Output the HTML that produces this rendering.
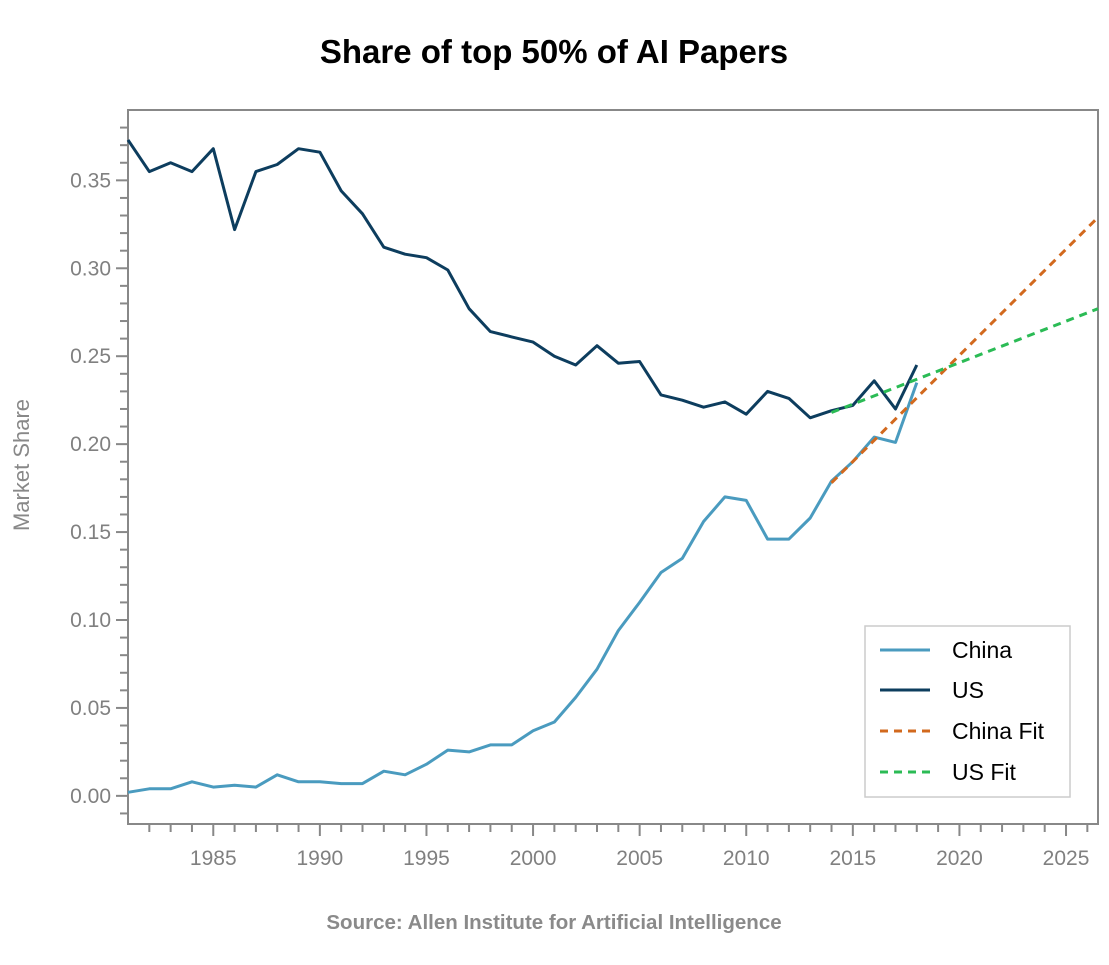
<!DOCTYPE html>
<html><head><meta charset="utf-8"><style>
html,body{margin:0;padding:0;background:#fff;}
svg text{font-family:"Liberation Sans",sans-serif;}
</style></head><body>
<svg id="chart" width="1109" height="960" xmlns="http://www.w3.org/2000/svg">
<text x="554" y="63" text-anchor="middle" font-size="33" font-weight="bold" fill="#000">Share of top 50% of AI Papers</text>
<text transform="translate(29,465) rotate(-90)" text-anchor="middle" font-size="22" fill="#888">Market Share</text>
<text x="554" y="929" text-anchor="middle" font-size="20.5" font-weight="bold" fill="#8a8a8a">Source: Allen Institute for Artificial Intelligence</text>
<g id="axes"></g>
<g id="series"></g>
<g>
<rect x="865" y="626" width="205" height="171" fill="#fff" stroke="#ccc" stroke-width="1.5"/>
<g><line x1="880" y1="650" x2="930" y2="650" stroke="#4a9bbf" stroke-width="3"/><text x="952" y="658" font-size="23" fill="#000">China</text></g>
<g><line x1="880" y1="690" x2="930" y2="690" stroke="#0d3d5e" stroke-width="3"/><text x="952" y="698" font-size="23" fill="#000">US</text></g>
<g><line x1="880" y1="731" x2="930" y2="731" stroke="#d2691e" stroke-width="3" stroke-dasharray="8,6"/><text x="952" y="739" font-size="23" fill="#000">China Fit</text></g>
<g><line x1="880" y1="772" x2="930" y2="772" stroke="#2bbb55" stroke-width="3" stroke-dasharray="8,6"/><text x="952" y="780" font-size="23" fill="#000">US Fit</text></g>
</g>
</svg>
<script>
const years = [1981,1982,1983,1984,1985,1986,1987,1988,1989,1990,1991,1992,1993,1994,1995,1996,1997,1998,1999,2000,2001,2002,2003,2004,2005,2006,2007,2008,2009,2010,2011,2012,2013,2014,2015,2016,2017,2018];
const usValues = [0.373,0.355,0.360,0.355,0.368,0.322,0.355,0.359,0.368,0.366,0.344,0.331,0.312,0.308,0.306,0.299,0.277,0.264,0.261,0.258,0.250,0.245,0.256,0.246,0.247,0.228,0.225,0.221,0.224,0.217,0.230,0.226,0.215,0.219,0.222,0.236,0.220,0.245];
const chinaValues = [0.002,0.004,0.004,0.008,0.005,0.006,0.005,0.012,0.008,0.008,0.007,0.007,0.014,0.012,0.018,0.026,0.025,0.029,0.029,0.037,0.042,0.056,0.072,0.094,0.110,0.127,0.135,0.156,0.170,0.168,0.146,0.146,0.158,0.179,0.190,0.204,0.201,0.235];
const fitYears = [2014,2026.5];
const chinaFitValues = [0.178,0.329];
const usFitValues = [0.218,0.277];
const xTickLabels = [1985,1990,1995,2000,2005,2010,2015,2020,2025];
const yTickLabels = [0,0.05,0.10,0.15,0.20,0.25,0.30,0.35];

const L=128,R=1098,T=110,B=824;
const x0=1981,x1=2026.5,y0=-0.016,y1=0.390;
const sx=v=>L+(v-x0)/(x1-x0)*(R-L);
const sy=v=>B-(v-y0)/(y1-y0)*(B-T);
const NS='http://www.w3.org/2000/svg';
function mk(tag,attrs,parent){const e=document.createElementNS(NS,tag);for(const k in attrs)e.setAttribute(k,attrs[k]);parent.appendChild(e);return e;}
const axes=document.getElementById('axes');
const frame=mk('rect',{x:L,y:T,width:R-L,height:B-T,fill:'none',stroke:'#888','stroke-width':2},axes);


for(let yr=1982;yr<=2026;yr++){
  const major=yr%5===0;
  const t=mk('line',{x1:sx(yr),x2:sx(yr),y1:B,y2:B+(major?12:8),stroke:'#888','stroke-width':2},axes);
  
  
}
xTickLabels.forEach(v=>{
  const t=mk('text',{x:sx(v),y:B+41,'text-anchor':'middle','font-size':21,fill:'#808080'},axes);
  t.textContent=v;
  
  
});
for(let i=-1;i<=38;i++){
  const v=i/100;
  const major=i%5===0;
  const t=mk('line',{x1:L-(major?12:8),x2:L,y1:sy(v),y2:sy(v),stroke:'#888','stroke-width':2},axes);
  
  
}
yTickLabels.forEach(v=>{
  const t=mk('text',{x:L-17,y:sy(v)+7,'text-anchor':'end','font-size':21,fill:'#808080'},axes);
  t.textContent=v.toFixed(2);
  
  
});
const series=document.getElementById('series');
function pts(xs,ys){return xs.map((x,i)=>sx(x).toFixed(1)+','+sy(ys[i]).toFixed(1)).join(' ');}
const c=mk('polyline',{points:pts(years,chinaValues),fill:'none',stroke:'#4a9bbf','stroke-width':3,'stroke-linejoin':'round'},series);


const u=mk('polyline',{points:pts(years,usValues),fill:'none',stroke:'#0d3d5e','stroke-width':3,'stroke-linejoin':'round'},series);


const cf=mk('polyline',{points:pts(fitYears,chinaFitValues),fill:'none',stroke:'#d2691e','stroke-width':3,'stroke-dasharray':'8,6'},series);


const uf=mk('polyline',{points:pts(fitYears,usFitValues),fill:'none',stroke:'#2bbb55','stroke-width':3,'stroke-dasharray':'8,6'},series);


</script>
</body></html>
